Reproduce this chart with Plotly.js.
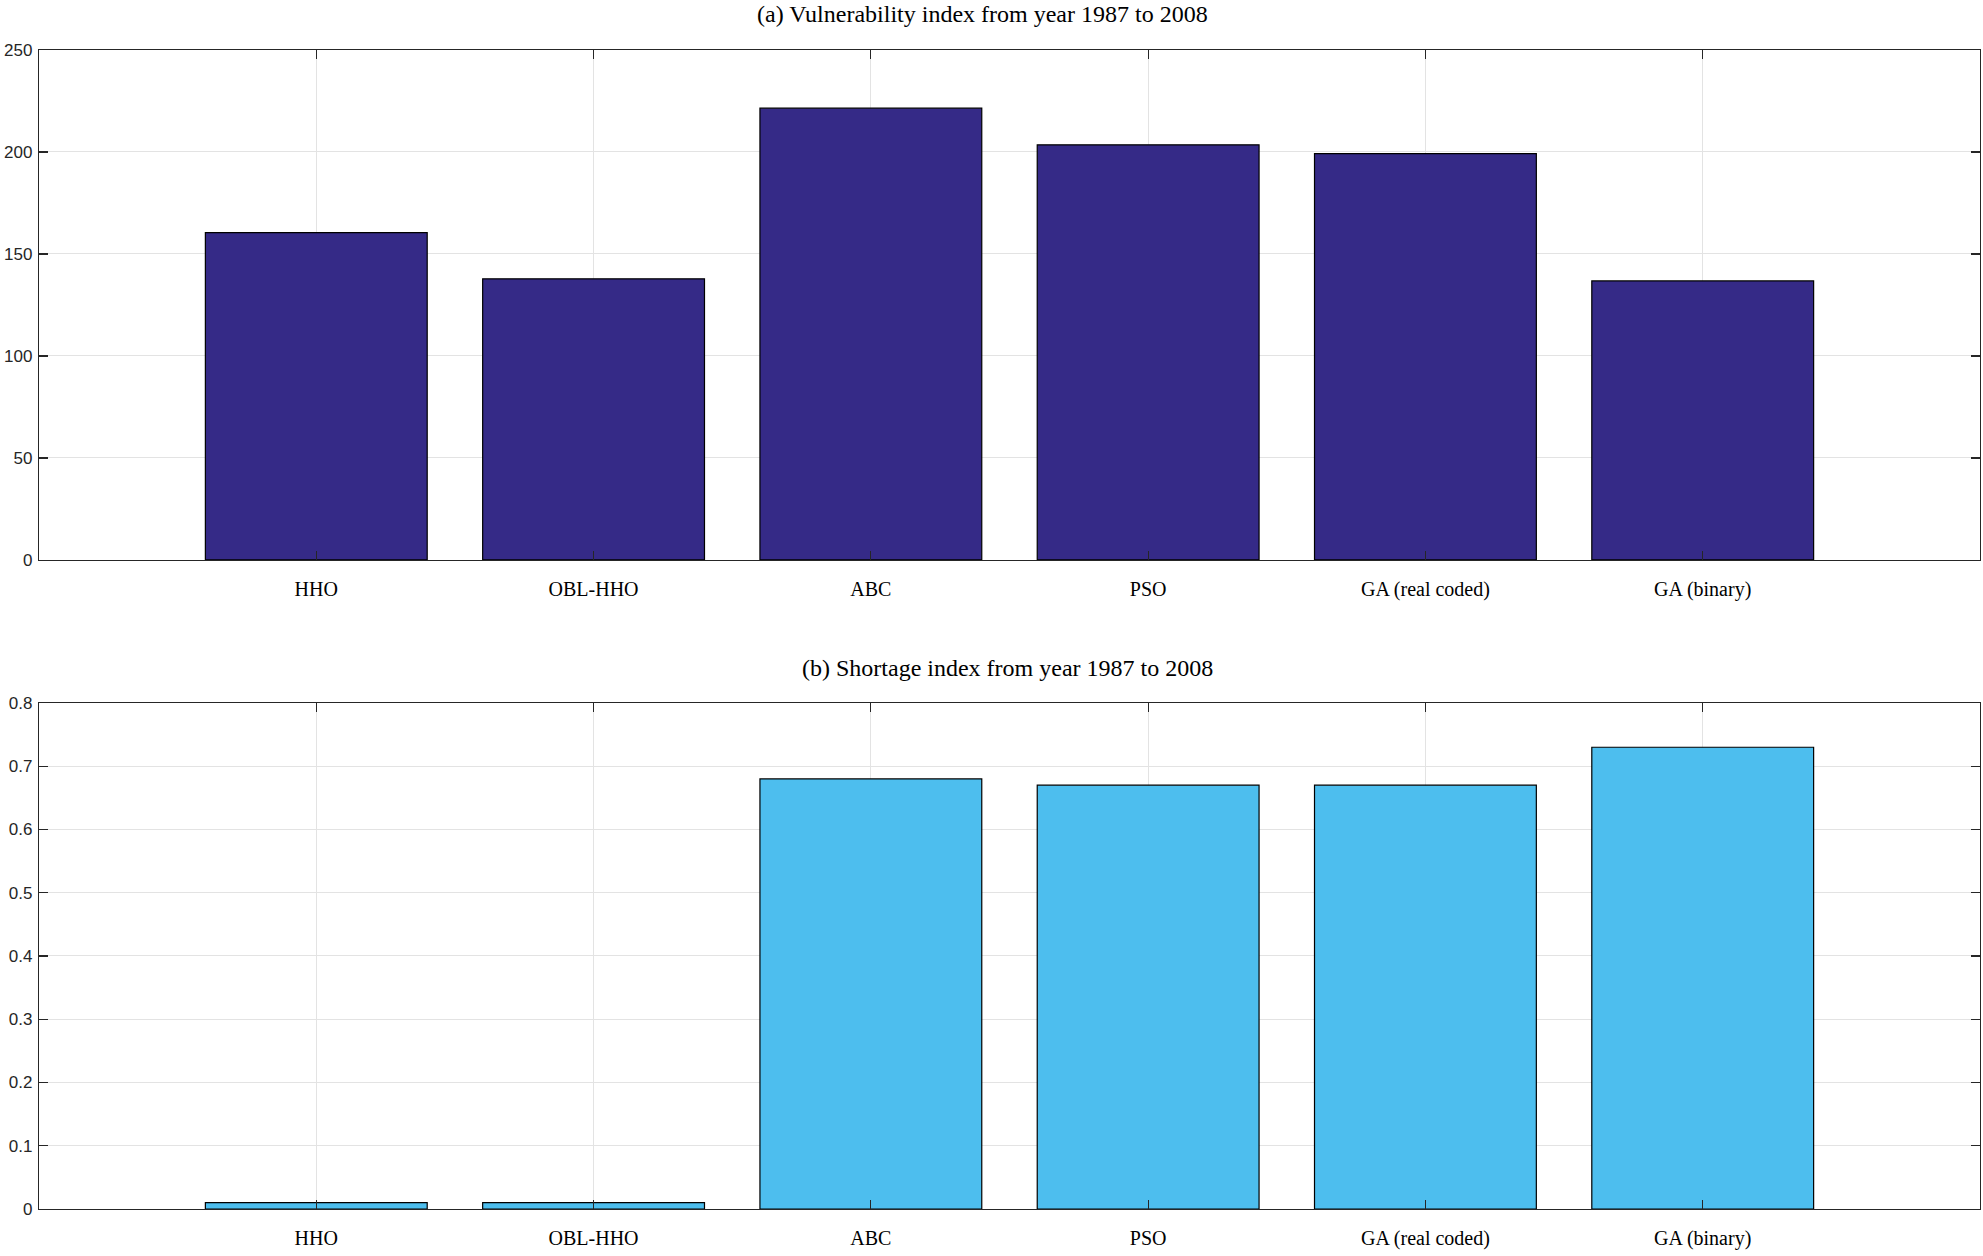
<!DOCTYPE html>
<html>
<head>
<meta charset="utf-8">
<script src="https://cdn.plot.ly/plotly-3.0.1.min.js"></script>
<style>html,body{margin:0;padding:0;background:#fff;}#chart{width:1983px;height:1256px;}</style>
</head>
<body>
<div id="chart"></div>
<script>
const categories = ["HHO", "OBL-HHO", "ABC", "PSO", "GA (real coded)", "GA (binary)"];
const vulnerability = [160.5, 137.8, 221.5, 203.5, 199.2, 136.8];
const shortage = [0.01, 0.01, 0.68, 0.67, 0.67, 0.73];
const titleA = "(a) Vulnerability index from year 1987 to 2008";
const titleB = "(b) Shortage index from year 1987 to 2008";
const vulTicks = [0, 50, 100, 150, 200, 250];
const shoTicks = [0, 0.1, 0.2, 0.3, 0.4, 0.5, 0.6, 0.7, 0.8];

const axisCol = "#262626";
const gridCol = "#e3e3e3";
const serif = "Liberation Serif, Times New Roman, serif";
const sans = "Liberation Sans, Arial, sans-serif";

const traces = [
  {type: "bar", x: categories, y: vulnerability, xaxis: "x", yaxis: "y", width: 0.8,
   marker: {color: "#352a87", line: {color: "#000", width: 1.2}}, hoverinfo: "x+y"},
  {type: "bar", x: categories, y: shortage, xaxis: "x2", yaxis: "y2", width: 0.8,
   marker: {color: "#4dbeee", line: {color: "#000", width: 1.2}}, hoverinfo: "x+y"}
];

function xax(anchor) {
  return {type: "category", anchor: anchor, range: [-1, 6], showgrid: true, gridcolor: gridCol, gridwidth: 1,
    showline: true, linecolor: axisCol, linewidth: 1.2, mirror: "ticks", ticks: "inside", ticklen: 9,
    tickcolor: axisCol, tickwidth: 1.2, tickfont: {family: serif, size: 20, color: "#000"},
    ticklabelstandoff: 11, zeroline: false, fixedrange: true};
}
function yax(anchor, domain, range, vals) {
  return {anchor: anchor, domain: domain, range: range, tickmode: "array", tickvals: vals,
    ticktext: vals.map(v => String(v)), showgrid: true, gridcolor: gridCol,
    gridwidth: 1, showline: true, linecolor: axisCol, linewidth: 1.2, mirror: "ticks", ticks: "inside",
    ticklen: 9, tickcolor: axisCol, tickwidth: 1.2, tickfont: {family: sans, size: 17, color: axisCol},
    zeroline: false, fixedrange: true, ticklabelstandoff: 2};
}

const layout = {
  width: 1983, height: 1256, paper_bgcolor: "#fff", plot_bgcolor: "#fff", showlegend: false,
  margin: {l: 39, r: 3, t: 50, b: 47},
  xaxis: xax("y"),
  yaxis: yax("x", [0.560, 1], [0, 250], vulTicks),
  xaxis2: xax("y2"),
  yaxis2: yax("x2", [0, 0.4366], [0, 0.8], shoTicks),
  annotations: [
    {text: titleA, xref: "paper", yref: "paper", x: 0.486, y: 1.031, xanchor: "center", yanchor: "middle",
     showarrow: false, font: {family: serif, size: 24, color: "#000"}},
    {text: titleB, xref: "paper", yref: "paper", x: 0.499, y: 0.4668, xanchor: "center", yanchor: "middle",
     showarrow: false, font: {family: serif, size: 24, color: "#000"}}
  ]
};

Plotly.newPlot("chart", traces, layout, {displayModeBar: false, staticPlot: true});
</script>
</body>
</html>
